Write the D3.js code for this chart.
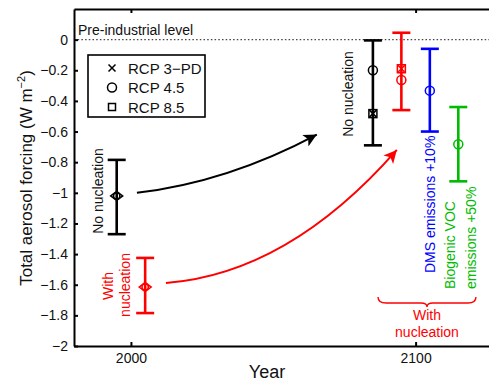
<!DOCTYPE html>
<html><head><meta charset="utf-8">
<script src="https://cdn.jsdelivr.net/npm/d3@7"></script>
<style>body{margin:0;background:#fff} svg text{font-family:"Liberation Sans",Arial,sans-serif}</style>
</head><body><svg id="c" width="489" height="381"></svg>
<script>
// ---- data ----
const barYears = [1995, 2005, 2085, 2095, 2105, 2115];
const barLow = [-1.27, -1.785, -0.69, -0.46, -0.60, -0.925];
const barHigh = [-0.785, -1.425, -0.005, 0.045, -0.06, -0.44];
const barColors = ["#000000", "#ff0000", "#000000", "#ff0000", "#0000ff", "#00bb00"];
const presentDay = [-1.02, -1.615, null, null, null, null];
const rcp45 = [null, null, -0.2, -0.264, -0.333, -0.683];
const rcp85 = [null, null, -0.483, -0.19, null, null];
const rcp3pd = [null, null, -0.483, -0.19, null, null];
const yTicks = [0, -0.2, -0.4, -0.6, -0.8, -1, -1.2, -1.4, -1.6, -1.8, -2];
const xTicks = [2000, 2100];
const legendLabels = ["RCP 3\u2212PD", "RCP 4.5", "RCP 8.5"];
const arrowBlack = [[2002.1, -1.0], [2034, -0.93], [2065.3, -0.62]];
const arrowRed = [[2012.3, -1.589], [2055.3, -1.527], [2093.4, -0.72]];

const svg = d3.select("#c");
const x = d3.scaleLinear([1980, 2130], [74, 501]);
const y = d3.scaleLinear([-2, 0.2], [346, 9]);

// arrow markers
const defs = svg.append("defs");
[["ahBlack", "#000"], ["ahRed", "#ff0000"]].forEach(([id, c]) => {
  defs.append("marker").attr("id", id).attr("viewBox", "0 0 10 10")
    .attr("refX", 10).attr("refY", 5).attr("markerWidth", 16).attr("markerHeight", 13)
    .attr("markerUnits", "userSpaceOnUse").attr("orient", "auto")
    .append("path").attr("d", "M0,0L10,5L0,10L2.5,5Z").attr("fill", c);
});

// pre-industrial dotted line
svg.append("line").attr("x1", x(1980)).attr("x2", x(2130)).attr("y1", y(0)).attr("y2", y(0))
  .attr("stroke", "#444").attr("stroke-width", 1.3).attr("stroke-dasharray", "1.5,2.2");
svg.append("text").attr("x", 78).attr("y", 35).attr("font-size", 14).attr("fill", "#111")
  .text("Pre-industrial level");

// axes
const fmt = d3.format("~g");
const gy = svg.append("g").attr("transform", `translate(${x(1980)},0)`)
  .call(d3.axisLeft(y).tickValues(yTicks).tickSizeInner(-4).tickSizeOuter(0).tickPadding(6).tickFormat(fmt));
const gx = svg.append("g").attr("transform", `translate(0,${y(-2)})`)
  .call(d3.axisBottom(x).tickValues(xTicks).tickSizeInner(-4).tickSizeOuter(0).tickPadding(7).tickFormat(d3.format("d")));
const gt = svg.append("g").attr("transform", `translate(0,${y(0.2)})`)
  .call(d3.axisTop(x).tickValues(xTicks).tickSizeInner(-4).tickSizeOuter(0).tickFormat(""));
[gy, gx, gt].forEach(g => {
  g.selectAll(".domain").attr("stroke", "#000").attr("stroke-width", 2);
  g.selectAll(".tick line").attr("stroke", "#000").attr("stroke-width", 2);
  g.selectAll("text").attr("font-size", 14).attr("fill", "#111").attr("font-family", "Liberation Sans, Arial, sans-serif");
});

// axis titles
const yl = svg.append("text").attr("transform", "translate(32,178) rotate(-90)")
  .attr("text-anchor", "middle").attr("font-size", 17).attr("fill", "#111");
yl.append("tspan").text("Total aerosol forcing (W m");
yl.append("tspan").attr("font-size", 11).attr("dy", -7).text("\u22122");
yl.append("tspan").attr("dy", 7).text(")");
svg.append("text").attr("x", 267).attr("y", 378).attr("text-anchor", "middle")
  .attr("font-size", 18).attr("fill", "#111").text("Year");

// arrows
const curve = d3.line().x(d => x(d[0])).y(d => y(d[1])).curve(d3.curveBundle.beta(1));
function quad(p) {
  const [a, b, c] = p.map(d => [x(d[0]), y(d[1])]);
  return `M${a[0]},${a[1]}Q${b[0]},${b[1]} ${c[0]},${c[1]}`;
}
svg.append("path").attr("d", quad(arrowBlack)).attr("fill", "none").attr("stroke", "#000")
  .attr("stroke-width", 2).attr("marker-end", "url(#ahBlack)");
svg.append("path").attr("d", quad(arrowRed)).attr("fill", "none").attr("stroke", "#ff0000")
  .attr("stroke-width", 2).attr("marker-end", "url(#ahRed)");

// error bars
const capW = 9;
barYears.forEach((yr, i) => {
  const g = svg.append("g").attr("stroke", barColors[i]).attr("stroke-width", 2.6).attr("fill", "none");
  const cx = x(yr);
  g.append("line").attr("x1", cx).attr("x2", cx).attr("y1", y(barLow[i])).attr("y2", y(barHigh[i]));
  g.append("line").attr("x1", cx - capW).attr("x2", cx + capW).attr("y1", y(barLow[i])).attr("y2", y(barLow[i]));
  g.append("line").attr("x1", cx - capW).attr("x2", cx + capW).attr("y1", y(barHigh[i])).attr("y2", y(barHigh[i]));
  const m = svg.append("g").attr("stroke", barColors[i]).attr("stroke-width", 1.5).attr("fill", "none");
  if (presentDay[i] != null) {
    const cy = y(presentDay[i]);
    m.append("path").attr("d", `M${cx - 6},${cy}L${cx},${cy - 4.5}L${cx + 6},${cy}L${cx},${cy + 4.5}Z`);
    m.append("circle").attr("cx", cx).attr("cy", cy).attr("r", 3.2);
  }
  if (rcp85[i] != null) {
    const cy = y(rcp85[i]);
    m.append("rect").attr("x", cx - 4).attr("y", cy - 4).attr("width", 8).attr("height", 8);
  }
  if (rcp3pd[i] != null) {
    const cy = y(rcp3pd[i]);
    m.append("path").attr("d", `M${cx - 3.5},${cy - 3.5}L${cx + 3.5},${cy + 3.5}M${cx - 3.5},${cy + 3.5}L${cx + 3.5},${cy - 3.5}`);
  }
  if (rcp45[i] != null) {
    const cy = y(rcp45[i]);
    m.append("circle").attr("cx", cx).attr("cy", cy).attr("r", 4.5);
  }
});

// legend
svg.append("rect").attr("x", 88).attr("y", 55).attr("width", 117).attr("height", 62)
  .attr("fill", "#fff").attr("stroke", "#000").attr("stroke-width", 1.6);
legendLabels.forEach((t, i) => {
  const cy = 68 + i * 19.5, cx = 112;
  const g = svg.append("g").attr("stroke", "#000").attr("stroke-width", 1.5).attr("fill", "none");
  if (i === 0) g.append("path").attr("d", `M${cx - 3.5},${cy - 3.5}L${cx + 3.5},${cy + 3.5}M${cx - 3.5},${cy + 3.5}L${cx + 3.5},${cy - 3.5}`);
  if (i === 1) g.append("circle").attr("cx", cx).attr("cy", cy).attr("r", 4.5);
  if (i === 2) g.append("rect").attr("x", cx - 3.5).attr("y", cy - 3.5).attr("width", 7).attr("height", 7);
  svg.append("text").attr("x", 128).attr("y", cy + 5.5).attr("font-size", 15).attr("fill", "#111").text(t);
});

// rotated annotations
function rtext(tx, ty, anchor, color, str, size) {
  svg.append("text").attr("transform", `translate(${tx},${ty}) rotate(-90)`)
    .attr("text-anchor", anchor).attr("font-size", size || 14).attr("fill", color).text(str);
}
rtext(103, 191, "middle", "#111", "No nucleation");
rtext(113, 286, "middle", "#ff0000", "With");
rtext(130, 285, "middle", "#ff0000", "nucleation");
rtext(353, 94, "middle", "#111", "No nucleation");
rtext(435, 273, "start", "#0000ff", "DMS emissions +10%");
rtext(455, 289, "start", "#00bb00", "Biogenic VOC");
rtext(476, 289, "start", "#00bb00", "emissions +50%");

// brace
const bx0 = x(2086.8), bx1 = x(2121.2), bm = (bx0 + bx1) / 2, by0 = 297, by1 = 307;
svg.append("path").attr("fill", "none").attr("stroke", "#ff0000").attr("stroke-width", 1.4)
  .attr("d", `M${bx0},${by0}Q${bx0},${by0 + 6} ${bx0 + 8},${by0 + 6}L${bm - 6},${by0 + 6}Q${bm},${by0 + 6} ${bm},${by1}Q${bm},${by0 + 6} ${bm + 6},${by0 + 6}L${bx1 - 8},${by0 + 6}Q${bx1},${by0 + 6} ${bx1},${by0}`);
svg.append("text").attr("x", bm).attr("y", 320).attr("text-anchor", "middle").attr("font-size", 14).attr("fill", "#ff0000").text("With");
svg.append("text").attr("x", bm).attr("y", 337).attr("text-anchor", "middle").attr("font-size", 14).attr("fill", "#ff0000").text("nucleation");
</script></body></html>
